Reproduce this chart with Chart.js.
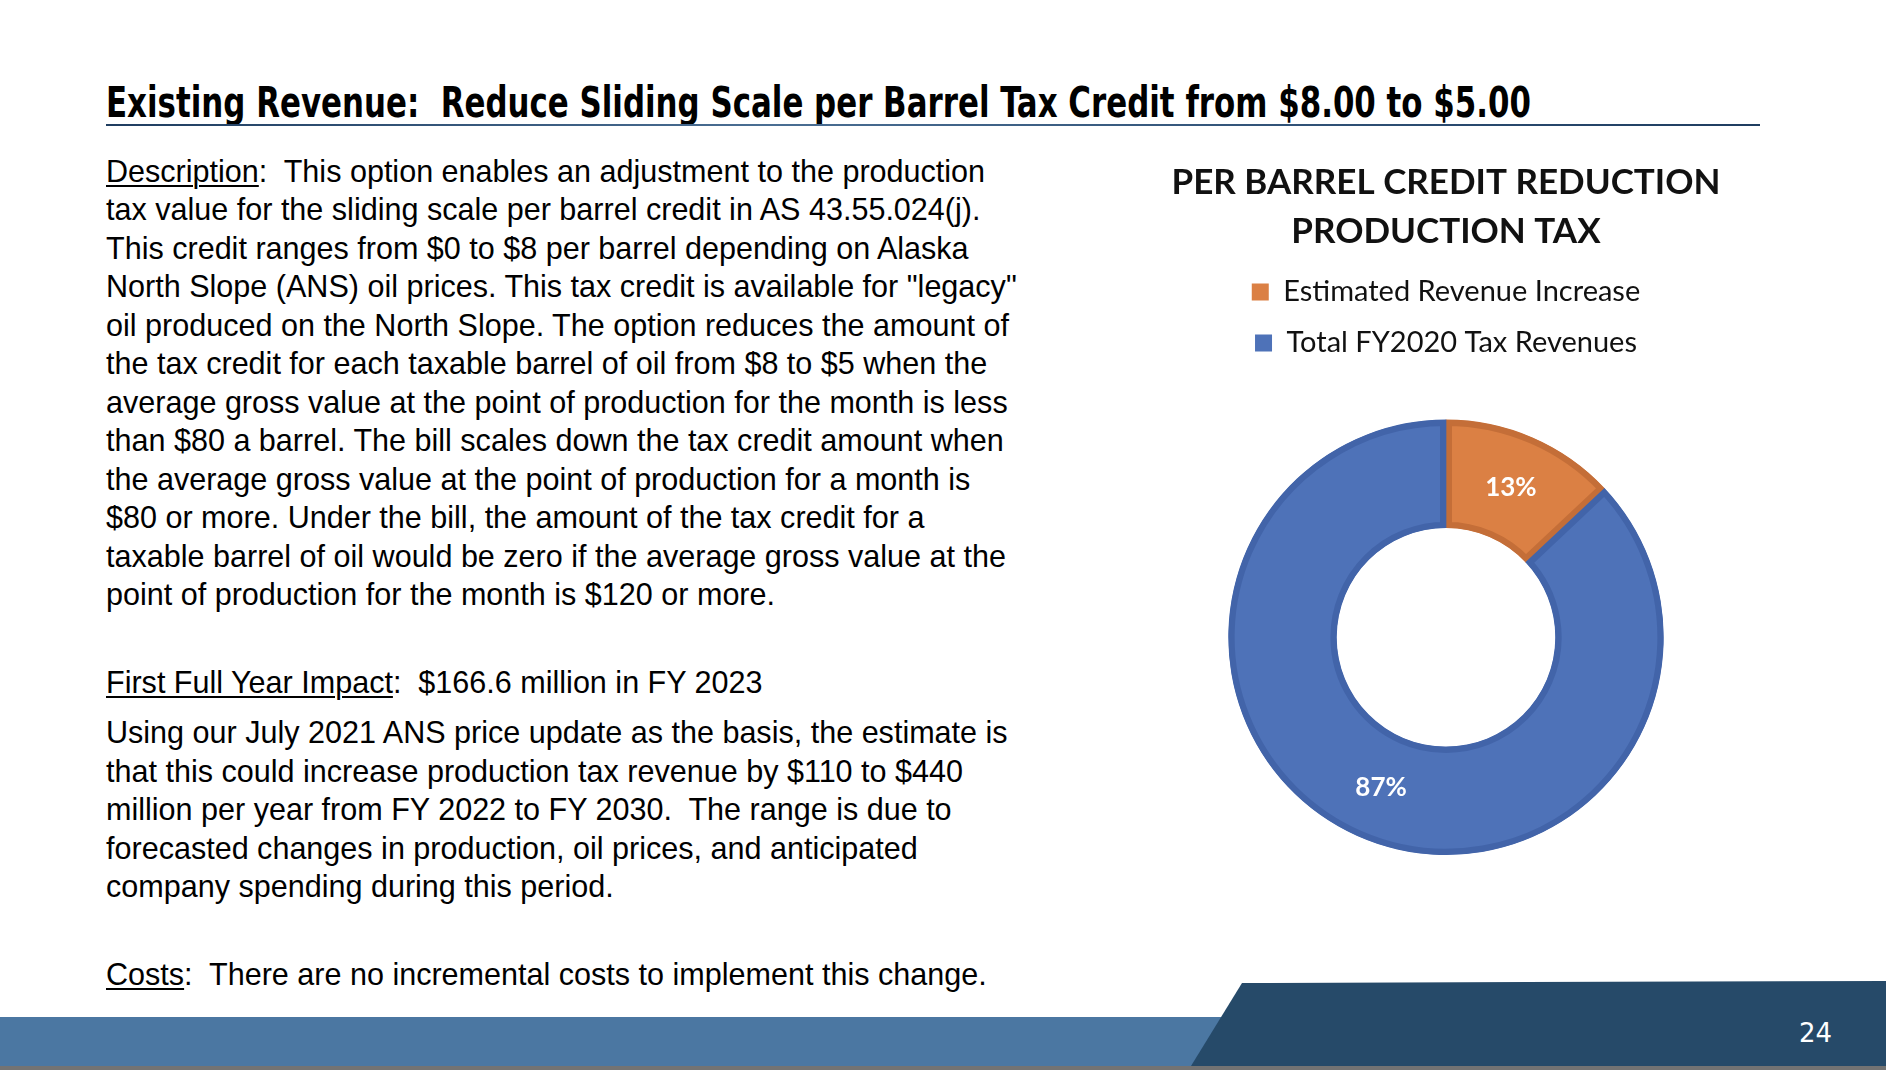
<!DOCTYPE html>
<html>
<head>
<meta charset="utf-8">
<script src="https://cdn.jsdelivr.net/npm/chart.js@4.4.0/dist/chart.umd.min.js"></script>
<style>
  html, body { margin: 0; padding: 0; background: #fff; }
  body { width: 1886px; height: 1070px; position: relative; overflow: hidden;
         font-family: 'Liberation Sans', Arial, sans-serif; color: #000; }
  .ln { position: absolute; left: 106px; top: 0; white-space: pre; line-height: 1;
        transform-origin: 0 0; font-size: 30px; }
  .ln u { text-decoration: underline; text-decoration-thickness: 2px; text-underline-offset: 3px; }
  #title { position: absolute; left: 106px; top: 0; white-space: pre; line-height: 1;
           font-family: 'Liberation Sans Narrow', 'DejaVu Sans Condensed', 'Liberation Sans', sans-serif;
           font-weight: bold; font-size: 43px; transform-origin: 0 0; color: #000; }
  #rule { position: absolute; left: 106px; top: 124px; width: 1654px; height: 2px;
          background: linear-gradient(to right, #1f3d60, #4a6e93 40%, #2a4b70 80%, #1f3d60); }
  #chartBox { position: absolute; left: 1096px; top: 147px; width: 700px; height: 712px; }
  #barLight { position: absolute; left: 0; top: 1017px; width: 1886px; height: 49px; background: #4b77a2; }
  #barGray { position: absolute; left: 0; top: 1066px; width: 1886px; height: 4px; background: #737373; }
  #barDark { position: absolute; left: 0; top: 0; width: 1886px; height: 1070px; background: #264a69;
             clip-path: polygon(1242px 983px, 1886px 981px, 1886px 1066px, 1191px 1066px); }
  #pageNo { position: absolute; left: 1799px; top: 0; color: #fff; font-size: 27px; line-height: 1;
            white-space: pre; transform-origin: 0 0;
            font-family: 'Liberation Sans Narrow', 'DejaVu Sans Condensed', 'Liberation Sans', sans-serif; }
</style>
</head>
<body>
<div id="title">Existing Revenue:  Reduce Sliding Scale per Barrel Tax Credit from $8.00 to $5.00</div>
<div id="rule"></div>

<div class="ln body" data-b="181.6" data-w="880"><u>Description</u>:  This option enables an adjustment to the production</div>
<div class="ln body" data-b="220.1" data-w="877">tax value for the sliding scale per barrel credit in AS 43.55.024(j).</div>
<div class="ln body" data-b="258.6" data-w="862">This credit ranges from $0 to $8 per barrel depending on Alaska</div>
<div class="ln body" data-b="297.1" data-w="891">North Slope (ANS) oil prices. This tax credit is available for "legacy"</div>
<div class="ln body" data-b="335.6" data-w="901">oil produced on the North Slope. The option reduces the amount of</div>
<div class="ln body" data-b="374.1" data-w="889">the tax credit for each taxable barrel of oil from $8 to $5 when the</div>
<div class="ln body" data-b="412.5" data-w="898">average gross value at the point of production for the month is less</div>
<div class="ln body" data-b="451.0" data-w="900">than $80 a barrel. The bill scales down the tax credit amount when</div>
<div class="ln body" data-b="489.5" data-w="862">the average gross value at the point of production for a month is</div>
<div class="ln body" data-b="528.0" data-w="824">$80 or more. Under the bill, the amount of the tax credit for a</div>
<div class="ln body" data-b="566.5" data-w="891">taxable barrel of oil would be zero if the average gross value at the</div>
<div class="ln body" data-b="605.0" data-w="678">point of production for the month is $120 or more.</div>

<div class="ln body" data-b="692.5" data-w="659"><u>First Full Year Impact</u>:  $166.6 million in FY 2023</div>

<div class="ln body" data-b="743.3" data-w="894">Using our July 2021 ANS price update as the basis, the estimate is</div>
<div class="ln body" data-b="781.8" data-w="870">that this could increase production tax revenue by $110 to $440</div>
<div class="ln body" data-b="820.3" data-w="840">million per year from FY 2022 to FY 2030.  The range is due to</div>
<div class="ln body" data-b="858.8" data-w="812">forecasted changes in production, oil prices, and anticipated</div>
<div class="ln body" data-b="897.3" data-w="581">company spending during this period.</div>

<div class="ln body" data-b="985.0" data-w="873"><u>Costs</u>:  There are no incremental costs to implement this change.</div>

<div id="chartBox"><canvas id="c" width="700" height="712"></canvas></div>

<div id="barLight"></div>
<div id="barDark"></div>
<div id="barGray"></div>
<div id="pageNo">24</div>

<script>
// ---- chart data ----
const chartTitleLines = ['PER BARREL CREDIT REDUCTION', 'PRODUCTION TAX'];
const categories = ['Estimated Revenue Increase', 'Total FY2020 Tax Revenues'];
const shareValues = [13, 87];
const sliceColors = ['#DB8044', '#4E72B8'];
const sliceBorderColors = ['#C46E38', '#4264A9'];

// ---- slide text layout helpers ----
function baselineOffset(el) {
  const probe = document.createElement('span');
  probe.style.display = 'inline-block';
  probe.style.width = '0px';
  probe.style.height = '0px';
  probe.style.verticalAlign = 'baseline';
  el.appendChild(probe);
  const off = probe.getBoundingClientRect().top - el.getBoundingClientRect().top;
  el.removeChild(probe);
  return off;
}
function placeAt(el, baseline) {
  el.style.top = '0px';
  el.style.top = (baseline - baselineOffset(el)) + 'px';
}
function fitWidth(el, target) {
  el.style.transform = 'none';
  const w = el.getBoundingClientRect().width;
  el.style.transform = 'scaleX(' + (target / w) + ')';
}

// body text: one common font size chosen from the line widths
const lines = Array.from(document.querySelectorAll('.body'));
const ratios = lines.map(el => parseFloat(el.dataset.w) / el.getBoundingClientRect().width).sort((a, b) => a - b);
const med = ratios[Math.floor(ratios.length / 2)];
const bodySize = 30 * med;
lines.forEach(el => { el.style.fontSize = bodySize + 'px'; });
lines.forEach(el => placeAt(el, parseFloat(el.dataset.b)));

const title = document.getElementById('title');
fitWidth(title, 1425);
placeAt(title, 116.7);

const pageNo = document.getElementById('pageNo');
fitWidth(pageNo, 33);
placeAt(pageNo, 1041.7);

// ---- chart ----
const sliceLabels = {
  id: 'sliceLabels',
  afterDatasetsDraw(chart) {
    const ctx = chart.ctx;
    const meta = chart.getDatasetMeta(0);
    const data = chart.data.datasets[0].data;
    const total = data.reduce((a, b) => a + b, 0);
    ctx.save();
    ctx.font = 'bold 26px Lato';
    ctx.fillStyle = '#ffffff';
    ctx.textAlign = 'center';
    ctx.textBaseline = 'middle';
    meta.data.forEach((arc, i) => {
      const p = arc.getCenterPoint();
      ctx.fillText(Math.round(data[i] / total * 100) + '%', p.x, p.y);
    });
    ctx.restore();
  }
};

Chart.defaults.font.family = 'Lato';
const chart = new Chart(document.getElementById('c'), {
  type: 'doughnut',
  data: {
    labels: categories,
    datasets: [{
      data: shareValues,
      backgroundColor: sliceColors,
      borderColor: sliceBorderColors,
      hoverBackgroundColor: sliceColors,
      hoverBorderColor: sliceBorderColors,
      borderWidth: 6,
      hoverBorderWidth: 6,
      borderAlign: 'inner',
      borderJoinStyle: 'miter'
    }]
  },
  options: {
    responsive: false,
    maintainAspectRatio: false,
    animation: false,
    radius: 217.7,
    cutout: '50.2%',
    rotation: 0,
    layout: { padding: 0 },
    plugins: {
      title: {
        display: true,
        text: chartTitleLines,
        color: '#111111',
        font: { family: 'Lato', size: 35, weight: 'bold', lineHeight: 1.38 },
        padding: { top: 12, bottom: 0 }
      },
      legend: {
        display: true,
        position: 'top',
        labels: {
          color: '#111111',
          font: { family: 'Lato', size: 29 },
          boxWidth: 17,
          boxHeight: 17,
          padding: 22,
          generateLabels(chart) {
            const items = Chart.overrides.doughnut.plugins.legend.labels.generateLabels(chart);
            items.forEach(it => { it.lineWidth = 0; it.strokeStyle = it.fillStyle; });
            return items;
          }
        }
      },
      tooltip: { enabled: false }
    }
  },
  plugins: [sliceLabels]
});

// keep donut centre at its slide position (y = 637.5 on the page)
const ca = chart.chartArea;
const wantCentre = 637.5 - 147;
const newH = Math.round(2 * wantCentre - ca.top);
document.getElementById('chartBox').style.height = newH + 'px';
chart.resize(700, newH);
</script>
</body>
</html>
